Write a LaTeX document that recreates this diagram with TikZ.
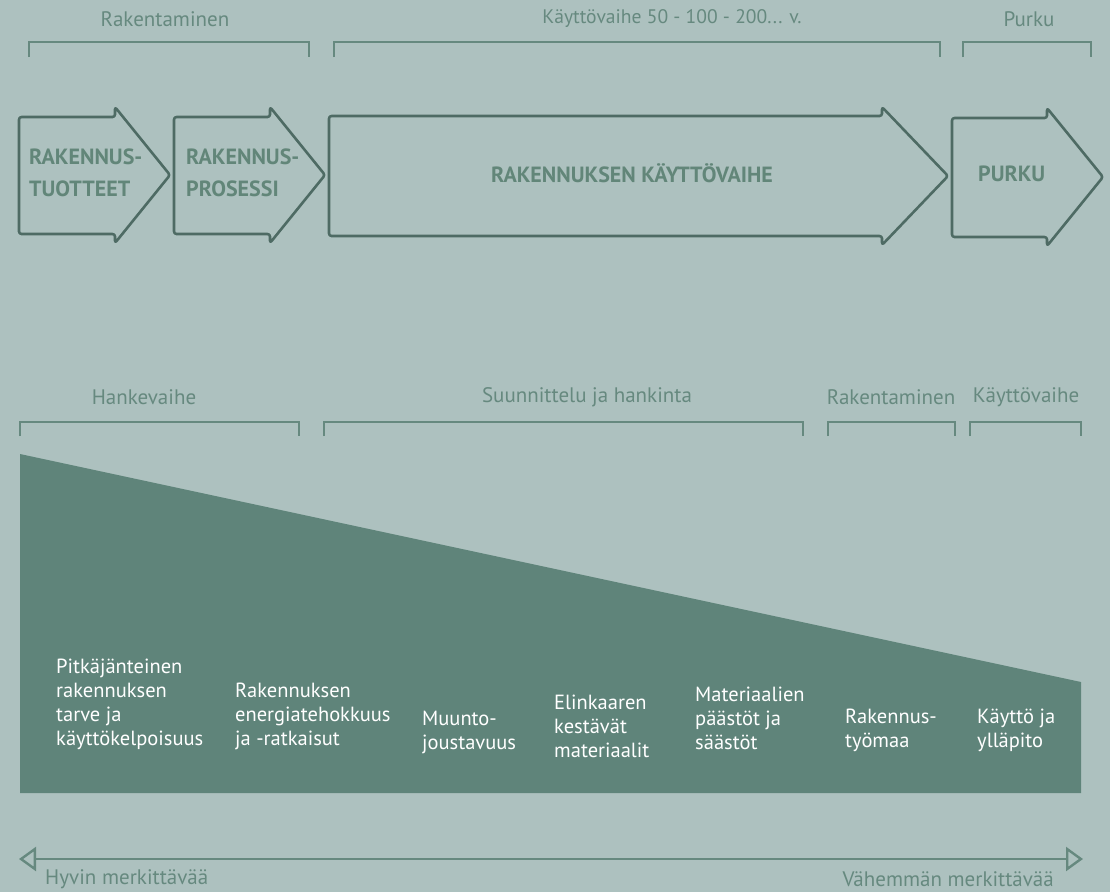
\documentclass[tikz,border=0pt]{standalone}
\usepackage{fontspec}
\setmainfont{PT Sans}
\usetikzlibrary{arrows.meta}
\definecolor{bg}{HTML}{ADC1BF}
\definecolor{band}{HTML}{5F847A}
\definecolor{label}{HTML}{66897F}
\definecolor{outline}{HTML}{4E6B64}
\definecolor{boldtxt}{HTML}{628679}
\begin{document}
\begin{tikzpicture}[x=1pt,y=-1pt,
  bracket/.style={draw=label, line width=2.4pt},
  phase/.style={text=label, font=\fontsize{21}{24}\selectfont, inner sep=0pt},
  stage/.style={draw=outline, line width=2.6pt, rounded corners=2.5pt, line join=round},
  stagetext/.style={text=boldtxt, font=\fontsize{22}{32}\selectfont\bfseries, align=left, inner sep=0pt},
  factor/.style={text=white, font=\fontsize{20.5}{24}\selectfont, align=left, inner sep=0pt, anchor=west},
  sigscale/.style={draw=label, line width=2.4pt, {Triangle[open,length=17pt,width=24pt]}-{Triangle[open,length=17pt,width=24pt]}}]
\useasboundingbox (0,0) rectangle (1110,892);
\fill[bg] (0,0) rectangle (1110,892);

% life-cycle phases
\node[phase] (p1) at (165,19) {Rakentaminen};
\node[phase, font=\fontsize{19.6}{24}\selectfont] (p2) at (672,19) {Käyttövaihe 50 - 100 - 200... v.};
\node[phase] (p3) at (1029,19) {Purku};
\draw[bracket] (29,57) -- (29,42) -- (309,42) -- (309,57);
\draw[bracket] (334,57) -- (334,42) -- (940,42) -- (940,57);
\draw[bracket] (963,57) -- (963,42) -- (1091,42) -- (1091,57);

% stage arrows
\draw[stage] (19,117) -- (115,117) -- (115,107) -- (170,175) -- (115,243) -- (115,234) -- (19,234) -- cycle;
\draw[stage] (174,117) -- (270,117) -- (270,107) -- (325,175) -- (270,243) -- (270,234) -- (174,234) -- cycle;
\draw[stage] (329,116) -- (882,116) -- (882,107) -- (948,176) -- (882,245) -- (882,236) -- (329,236) -- cycle;
\draw[stage] (952,118) -- (1047,118) -- (1047,108) -- (1103,177) -- (1047,246) -- (1047,237) -- (952,237) -- cycle;
\node[stagetext, anchor=west] (s1) at (29,173) {RAKENNUS-\\TUOTTEET};
\node[stagetext, anchor=west] (s2) at (186,173) {RAKENNUS-\\PROSESSI};
\node[stagetext] (s3) at (632,173) {RAKENNUKSEN KÄYTTÖVAIHE};
\node[stagetext, anchor=west] (s4) at (978,174) {PURKU};

% project phases
\node[phase] (h1) at (144,397) {Hankevaihe};
\node[phase] (h2) at (587,397) {Suunnittelu ja hankinta};
\node[phase] (h3) at (891,397) {Rakentaminen};
\node[phase] (h4) at (1026,397) {Käyttövaihe};
\draw[bracket] (20,436) -- (20,422) -- (299,422) -- (299,436);
\draw[bracket] (324,436) -- (324,422) -- (803,422) -- (803,436);
\draw[bracket] (828,436) -- (828,422) -- (955,422) -- (955,436);
\draw[bracket] (970,436) -- (970,422) -- (1081,422) -- (1081,436);

% decreasing influence
\fill[band] (20,454) -- (1081,682) -- (1081,793) -- (20,793) -- cycle;
\node[factor] (f1) at (56,704) {Pitkäjänteinen\\rakennuksen\\tarve ja\\käyttökelpoisuus};
\node[factor] (f2) at (235,716) {Rakennuksen\\energiatehokkuus\\ja -ratkaisut};
\node[factor] (f3) at (422,732) {Muunto-\\joustavuus};
\node[factor] (f4) at (554,726) {Elinkaaren\\kestävät\\materiaalit};
\node[factor] (f5) at (695,718) {Materiaalien\\päästöt ja\\säästöt};
\node[factor] (f6) at (845,730) {Rakennus-\\työmaa};
\node[factor] (f7) at (977,730) {Käyttö ja\\ylläpito};

% significance scale
\coordinate (l) at (19,859);
\coordinate (r) at (1083,859);
\draw[sigscale] (l) -- (r);
\node[phase, anchor=west] (m1) at (45,879) {Hyvin merkittävää};
\node[phase, anchor=east] (m2) at (1054,879) {Vähemmän merkittävää};
\end{tikzpicture}
\end{document}
